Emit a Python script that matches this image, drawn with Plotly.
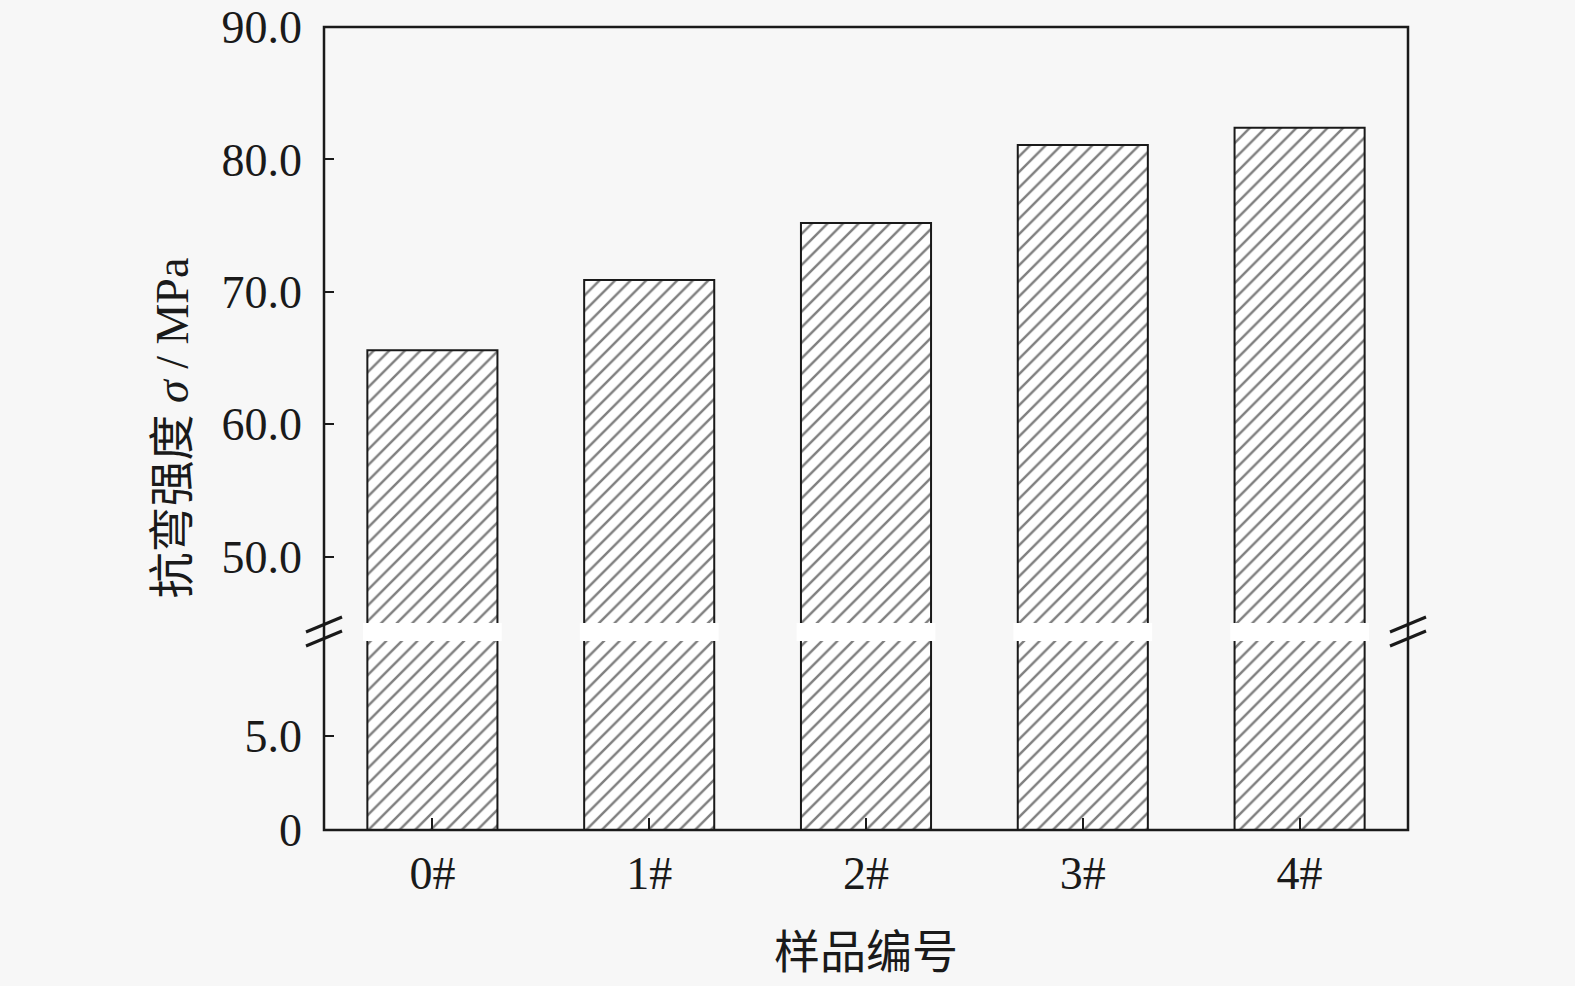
import plotly.graph_objects as go

# ---- data ----
categories = ["0#", "1#", "2#", "3#", "4#"]
strength = [65.6, 70.9, 75.2, 81.1, 82.4]
upper_ticks = [50, 60, 70, 80, 90]
lower_ticks = [0, 5]
lower_ticktext = ["0", "5.0"]
upper_range = [45, 90]
lower_range = [0, 10]
x_title = "样品编号"
y_title = "抗弯强度 <i>σ</i> / MPa"

W, H = 1575, 986
ML, MR, MT, MB = 324, 167, 27, 156
plot_h = H - MT - MB
low_dom = [0, 189 / plot_h]
up_dom = [207 / plot_h, 1]

BG = "#f7f7f7"
INK = "#1a1a1a"
serif = "Liberation Serif, Times New Roman, Noto Sans CJK SC, serif"
cjk = "Liberation Serif, Noto Sans CJK SC, serif"

idx = list(range(len(categories)))
bar_w = 0.6

def bar(xa, ya):
    return go.Bar(
        x=idx, y=strength, width=bar_w, xaxis=xa, yaxis=ya,
        marker=dict(
            color="white",
            line=dict(color=INK, width=2),
            pattern=dict(shape="/", fgcolor="#000", bgcolor="white",
                         size=11, solidity=0.22),
        ),
        showlegend=False, hoverinfo="skip",
    )

fig = go.Figure([bar("x", "y"), bar("x2", "y2")])

tickfont = dict(family=serif, size=46, color=INK)

fig.update_layout(
    width=W, height=H,
    margin=dict(l=ML, r=MR, t=MT, b=MB, autoexpand=False),
    paper_bgcolor=BG, plot_bgcolor=BG,
    xaxis=dict(domain=[0, 1], anchor="y", range=[-0.5, len(categories) - 0.5],
               tickvals=idx, ticktext=categories, ticks="inside", ticklen=12,
               tickwidth=2, tickcolor=INK, tickfont=tickfont, showgrid=False,
               zeroline=False, showline=False, ticklabelstandoff=12, automargin=False),
    xaxis2=dict(domain=[0, 1], anchor="y2", matches="x", showticklabels=False,
                ticks="", showgrid=False, zeroline=False, showline=False, automargin=False),
    yaxis=dict(domain=low_dom, anchor="x", range=lower_range, tickvals=lower_ticks,
               ticktext=lower_ticktext, ticks="inside", ticklen=10, tickwidth=2,
               tickcolor=INK, tickfont=tickfont, showgrid=False, zeroline=False,
               showline=False, ticklabelstandoff=21, automargin=False),
    yaxis2=dict(domain=up_dom, anchor="x2", range=upper_range, tickvals=upper_ticks,
                tickformat=".1f", ticks="inside", ticklen=10, tickwidth=2,
                tickcolor=INK, tickfont=tickfont, showgrid=False, zeroline=False,
                showline=False, ticklabelstandoff=21, automargin=False),
)

shapes = []
# white strip at the axis break across each bar
for i in idx:
    shapes.append(dict(type="rect", xref="x", yref="paper",
                       x0=i - bar_w / 2 - 0.02, x1=i + bar_w / 2 + 0.02,
                       y0=low_dom[1], y1=up_dom[0],
                       fillcolor="white", line=dict(width=0), layer="above"))
# frame
shapes.append(dict(type="rect", xref="paper", yref="paper", x0=0, x1=1, y0=0, y1=1,
                   line=dict(color=INK, width=2.5), layer="above"))
# break marks
mid = (low_dom[1] + up_dom[0]) / 2
for xa in (0, 1):
    for (y0, y1) in ((0, 15), (-14, 1)):
        shapes.append(dict(type="line", xref="paper", yref="paper",
                           xsizemode="pixel", ysizemode="pixel",
                           xanchor=xa, yanchor=mid,
                           x0=-18, x1=18, y0=y0, y1=y1,
                           line=dict(color=INK, width=3), layer="above"))
fig.update_layout(shapes=shapes)

fig.add_annotation(text=x_title, xref="paper", yref="paper", x=0.5, y=0,
                   yanchor="middle", yshift=-122, showarrow=False,
                   font=dict(family=cjk, size=46, color=INK))
fig.add_annotation(text=y_title, xref="paper", yref="paper", x=0, y=0.5,
                   xanchor="center", yanchor="middle", xshift=-152, textangle=-90,
                   showarrow=False, font=dict(family=cjk, size=46, color=INK))

fig.write_html("out.html",
               config={"displayModeBar": False},
               post_script="document.body.style.margin='0';"
                           "document.body.style.background='#f7f7f7';")
